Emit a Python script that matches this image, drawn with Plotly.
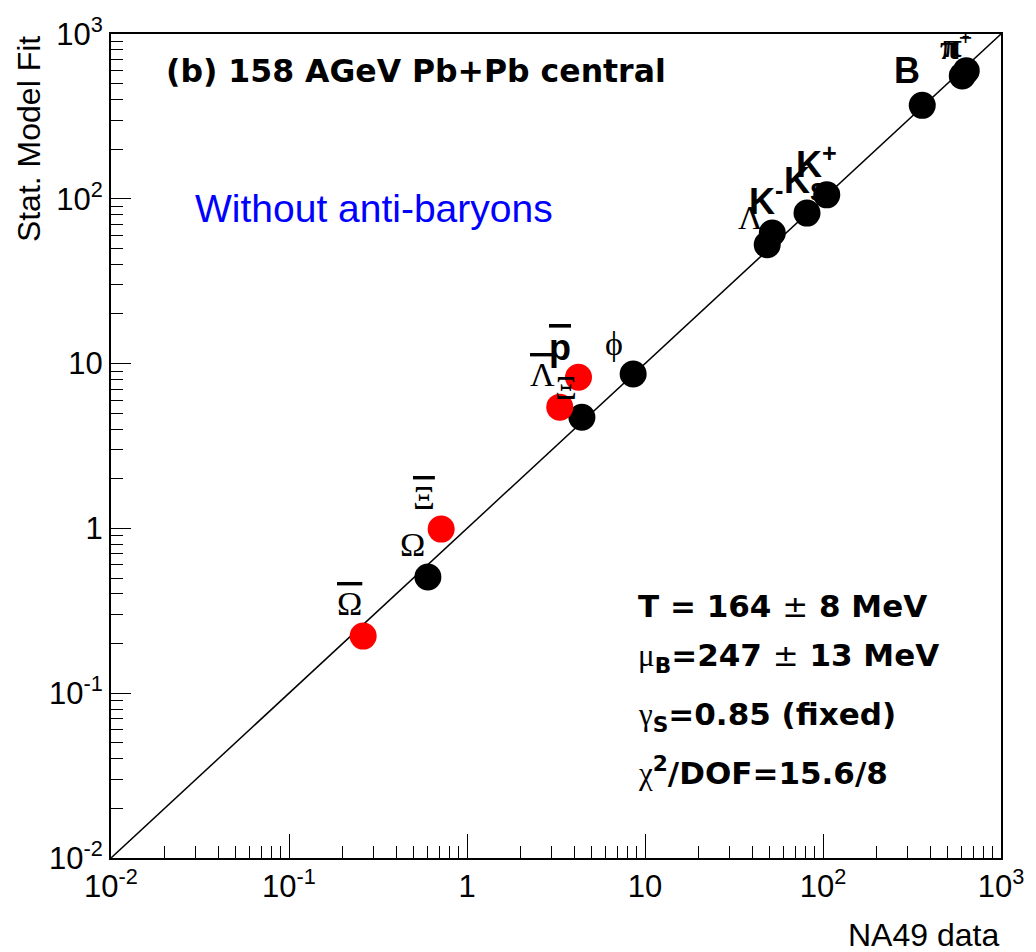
import numpy as np
import plotly.graph_objects as go

# ---- data ----
black_names = ["pi+", "pi-", "B", "K+", "KS", "K-", "Lambda", "phi", "Xi", "Omega"]
black_x = [638, 606, 361, 105, 81.3, 51.9, 48.6, 8.58, 4.42, 0.603]
black_y = [598, 557, 369, 105.7, 81.9, 62.0, 52.7, 8.64, 4.73, 0.507]

red_names = ["pbar", "Lambdabar", "Xibar", "Omegabar"]
red_x = [4.23, 3.32, 0.716, 0.261]
red_y = [8.26, 5.44, 0.99, 0.222]

diag = [0.01, 1000]

tick_vals = [0.01, 0.1, 1, 10, 100, 1000]
tick_text = ["10<sup>-2</sup>", "10<sup>-1</sup>", "1", "10", "10<sup>2</sup>", "10<sup>3</sup>"]

SANS = "Liberation Sans"
BOLD = "DejaVu Sans"
SERIF = "Liberation Serif"
OVL = "<span style='text-decoration:overline'>%s</span>"

# labels: (text, x, y, dx, dy, font family, size)
labels = [
    ("<b>π<sup>+</sup></b>", black_x[0], black_y[0], -10, 26, SERIF, 34),
    ("<b>π<sup>-</sup></b>", black_x[0], black_y[0], -10, 28, SERIF, 34),
    ("<b>B</b>", black_x[2], black_y[2], -15, 35, SANS, 36),
    ("<b>K<sup>+</sup></b>", black_x[3], black_y[3], -10, 33, SANS, 36),
    ("<b>K<sub>S</sub></b>", black_x[4], black_y[4], -2, 30, SANS, 36),
    ("<b>K<sup>-</sup></b>", black_x[5], black_y[5], -6, 34, SANS, 36),
    ("Λ", black_x[6], black_y[6], -17, 27, SERIF, 34),
    ("ϕ", black_x[7], black_y[7], -19, 31, SERIF, 34),
    ("Ξ", black_x[8], black_y[8], -16, 30, SERIF, 34),
    ("Ω", black_x[9], black_y[9], -15, 33, SERIF, 34),
    ("<b>" + OVL % "p" + "</b>", red_x[0], red_y[0], -18, 30, SANS, 36),
    (OVL % "Λ", red_x[1], red_y[1], -17, 33, SERIF, 34),
    (OVL % "Ξ", red_x[2], red_y[2], -17, 32, SERIF, 34),
    (OVL % "Ω", red_x[3], red_y[3], -14, 33, SERIF, 34),
]

fig = go.Figure()
fig.add_trace(go.Scatter(x=diag, y=diag, mode="lines",
                         line=dict(color="black", width=1.5), hoverinfo="skip"))
fig.add_trace(go.Scatter(x=black_x, y=black_y, mode="markers", text=black_names,
                         marker=dict(color="black", size=27, line=dict(width=0))))
fig.add_trace(go.Scatter(x=red_x, y=red_y, mode="markers", text=red_names,
                         marker=dict(color="#ff0000", size=27, line=dict(width=0))))

annotations = []
for txt, x, y, dx, dy, fam, sz in labels:
    annotations.append(dict(x=np.log10(x), y=np.log10(y), xref="x", yref="y", text=txt,
                            showarrow=False, xshift=dx, yshift=dy,
                            font=dict(family=fam, size=sz, color="black")))

GR = "<span style='font-family:Liberation Serif;font-weight:normal'>%s</span>"
annotations += [
    dict(x=0.06, y=0.955, xref="paper", yref="paper", xanchor="left", yanchor="middle",
         text="<b>(b) 158 AGeV Pb+Pb central</b>", showarrow=False,
         font=dict(family=BOLD, size=31.5, color="black")),
    dict(x=0.092, y=0.788, xref="paper", yref="paper", xanchor="left", yanchor="middle",
         text="Without anti-baryons", showarrow=False,
         font=dict(family=SANS, size=39, color="#0000ff")),
    dict(x=0.59, y=0.306, xref="paper", yref="paper", xanchor="left", yanchor="middle",
         text="<b>T = 164 </b>±<b> 8 MeV</b>", showarrow=False,
         font=dict(family=BOLD, size=31, color="black")),
    dict(x=0.59, y=0.243, xref="paper", yref="paper", xanchor="left", yanchor="middle",
         text=GR % "μ" + "<sub><b>B</b></sub><b>=247 </b>±<b> 13 MeV</b>",
         showarrow=False, font=dict(family=BOLD, size=31, color="black")),
    dict(x=0.59, y=0.172, xref="paper", yref="paper", xanchor="left", yanchor="middle",
         text=GR % "γ" + "<sub><b>S</b></sub><b>=0.85 (fixed)</b>",
         showarrow=False, font=dict(family=BOLD, size=31, color="black")),
    dict(x=0.59, y=0.106, xref="paper", yref="paper", xanchor="left", yanchor="middle",
         text=GR % "χ" + "<sup><b>2</b></sup><b>/DOF=15.6/8</b>",
         showarrow=False, font=dict(family=BOLD, size=31, color="black")),
    dict(x=1.0, y=-0.094, xref="paper", yref="paper", xanchor="right", yanchor="middle",
         text="NA49 data", showarrow=False, font=dict(family=SANS, size=32, color="black")),
    dict(x=-0.092, y=1.0, xref="paper", yref="paper", xanchor="center", yanchor="top",
         text="Stat. Model Fit", textangle=-90, showarrow=False,
         font=dict(family=SANS, size=32, color="black")),
]

axis_common = dict(
    type="log", range=[-2, 3], tickvals=tick_vals, ticktext=tick_text,
    ticks="inside", showline=True, linecolor="black", linewidth=2, mirror=True,
    showgrid=False, zeroline=False, tickcolor="black", tickwidth=1,
    tickfont=dict(family=SANS, size=31, color="black"),
    minor=dict(ticks="inside", dtick="D1", ticklen=12, tickcolor="black", tickwidth=1, showgrid=False),
)

fig.update_layout(
    width=1036, height=952,
    margin=dict(l=111, r=29, t=30, b=94),
    paper_bgcolor="white", plot_bgcolor="white",
    showlegend=False,
    annotations=annotations,
    xaxis=dict(axis_common, ticklen=24),
    yaxis=dict(axis_common, ticklen=20),
)

fig.write_html("out.html")
